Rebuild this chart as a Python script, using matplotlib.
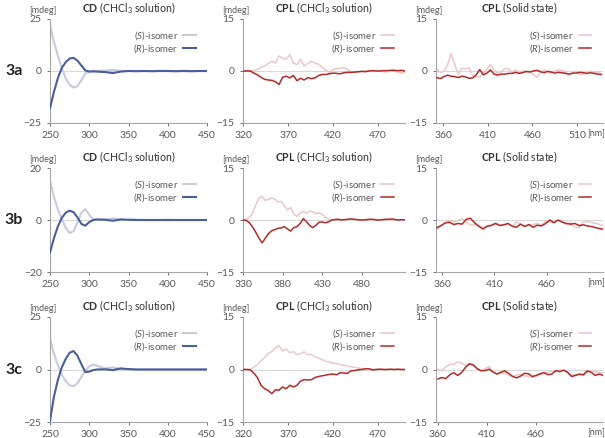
import matplotlib.pyplot as plt

plt.rcParams['font.family'] = ['Lato', 'DejaVu Sans']
plt.rcParams['mathtext.fontset'] = 'custom'
plt.rcParams['mathtext.rm'] = 'Lato'
plt.rcParams['mathtext.it'] = 'Lato:italic'
plt.rcParams['mathtext.bf'] = 'Lato:bold'

# ---- CD spectra (CHCl3 solution) ----
cd_wl = [250, 255, 260, 265, 270, 275, 280, 285, 290, 295, 300, 305, 310,
         320, 330, 340, 350, 360, 370, 380, 390, 400, 410, 420, 430, 440, 450]
cd_3a_s = [22, 14, 7.5, 1.5, -3.5, -6.5, -8, -7.3, -4.5, -1.2, 0, 0.2, 0.1,
           0.2, 0.6, 0.1, 0, 0.1, 0, 0, 0.1, 0, 0, 0.1, 0, 0, 0]
cd_3a_r = [-18, -10, -3.5, 1.5, 4.2, 6, 6.3, 5, 2.6, 0.3, -0.3, -0.2, -0.3,
           -0.5, -1, -0.3, 0, -0.1, 0, -0.1, 0, 0, -0.1, 0, -0.1, 0, 0]
cd_3b_s = [15, 9, 4, 0.5, -3, -5, -4.3, -1, 2.8, 4.2, 2, 0.3, 0.2,
           0.2, 0.6, 0.2, 0, 0.1, 0, 0, 0, 0.1, 0, 0, 0, 0, 0]
cd_3b_r = [-12.5, -7, -2.5, 0.8, 2.8, 3.6, 3, 1, -1.5, -2.2, -0.8, 0, 0.2,
           0.1, -0.3, 0.2, 0.1, 0, 0, 0, 0, 0, 0, 0, 0, 0, 0]
cd_3c_s = [15, 7.5, 2, -2.5, -5.5, -7.5, -8, -6.5, -3.5, -0.5, 1.5, 2.3, 1.8,
           0.5, 1, 0.3, 0, 0, 0, 0, 0, 0, 0, 0, 0, 0, 0]
cd_3c_r = [-24.5, -13, -5, 1, 5, 8, 8.8, 6.5, 2.5, -1.2, -1, -0.3, 0,
           0.1, -0.3, 0.5, 0.2, 0, 0, 0, 0, 0, 0, 0, 0, 0, 0]

# ---- CPL spectra (CHCl3 solution) ----
sol_wl_a = list(range(320, 501, 4))
sol_3a_s = [0, 0, 0, 0.1, 0.5, 1.0, 1.5, 2.1, 2.8, 2.3, 4.4, 3.6, 3.4, 4.7, 2.3, 1.8,
            3.4, 1.5, 2.1, 2.8, 2.3, 1.9, 1.1, 0.3, -0.5, 0.4, 0.7, 0.8, 0.9, 0.5,
            -0.2, -0.5, -0.3, -0.2, 0, 0.1, 0.1, 0, 0, -0.2, -0.3, 0, 0.1, -0.3, -0.6, -0.3]
sol_3a_r = [0, 0, 0, -0.6, -1.1, -1.8, -2.4, -2.6, -2.7, -3.1, -3.9, -1.8, -1.5, -2.0,
            -1.3, -2.8, -2.1, -2.6, -1.9, -2.2, -2.0, -1.3, -1.0, -1.0, -0.8, -0.6, -0.7,
            -0.8, -0.5, -0.4, -0.4, -0.3, -0.2, -0.1, -0.2, 0, 0.1, 0, 0, 0.1, 0.1, 0.2,
            0.2, 0.1, 0.2, 0]

sol_wl_b = list(range(330, 535, 4))
sol_3b_s = [0, 0.2, 0.8, 2.0, 4.3, 6.3, 6.8, 5.7, 5.9, 6.4, 6.0, 5.2, 5.4, 4.1, 2.9,
            3.6, 1.7, 1.0, 2.0, 2.5, 1.9, 2.6, 2.4, 1.8, 2.0, 1.6, 0.8, 0.2, 0, 0.3,
            0.1, 0, 0.1, 0.2, 0.3, 0.2, 0.1, 0, 0.1, 0.2, 0.1, 0, 0.1, 0.2, 0.1, 0.2,
            0.1, 0, 0.1, 0, 0.1, 0]
sol_3b_r = [0, -0.1, -0.8, -2.0, -3.5, -5.2, -6.6, -5.3, -4.0, -3.1, -2.8, -2.4, -2.3,
            -1.9, -2.6, -3.2, -2.2, -1.9, -1.0, 0.4, -0.5, -1.6, -2.2, -1.5, -0.6, -0.6,
            -0.8, -0.5, 0, 0.1, 0.2, 0, 0.1, 0.2, 0.3, 0.2, 0.1, 0, 0, 0.1, 0.2, 0.2, 0,
            0, 0.1, 0.2, 0.2, 0.3, 0.1, 0, 0.1, 0]

sol_wl_c = list(range(320, 501, 4))
sol_3c_s = [0, 0, 0.1, 0.6, 1.4, 2.5, 3.4, 4.6, 5.1, 6.2, 6.8, 5.3, 5.8, 4.8, 5.1, 4.2,
            4.6, 5.0, 4.2, 4.3, 3.6, 3.3, 2.8, 2.3, 2.1, 1.8, 1.7, 1.4, 1.2, 1.0, 0.8,
            0.6, 0.4, 0.3, 0.2, 0.1, 0, 0, 0, 0, 0, 0, 0, 0, 0, 0]
sol_3c_r = [0, 0, -0.1, -1.0, -2.3, -4.5, -5.5, -6.0, -6.9, -5.8, -5.9, -5.0, -5.5, -4.5,
            -5.0, -4.5, -3.3, -2.9, -3.0, -2.9, -2.3, -2.0, -1.8, -1.6, -1.4, -1.3, -1.5,
            -0.9, -1.0, -1.1, -0.4, -0.3, -0.1, 0, 0.2, 0.2, -0.1, 0, 0.1, 0, 0, 0.1, 0,
            0.1, 0, 0]

# ---- CPL spectra (solid state) ----
sld_wl_a = list(range(353, 538, 4))
sld_3a_s = [0.5, -0.5, 0, 1.8, 5.0, 1.8, -0.9, 0.8, 0.6, 0.9, -1.2, -1.8, -1.7, -0.6,
            0.6, 1.9, 0.3, -0.7, -0.3, 0.7, 0.7, -0.3, 0.3, -0.5, 0, -0.4, 0, -1.0, -1.8,
            -0.4, 0.3, -0.2, -0.7, 0, 0.3, 0.3, -0.3, -1.2, -0.6, 0, -1.0, -1.0, -0.5, 0,
            -0.3, -0.4, -0.2]
sld_3a_r = [-1.9, -2.2, -1.6, -1.2, -1.5, -1.6, -1.9, -1.5, -1.7, -2.1, -2.0, -1.1, 0.4,
            -1.1, -0.6, 0.3, -0.9, -1.2, -0.9, -0.9, -0.7, -0.7, -0.4, -0.7, -0.5, -0.1,
            -0.3, 0, 0.2, -0.2, -0.5, -0.1, -0.3, -0.6, -0.4, -0.5, -0.7, -0.9, -0.6, -0.6,
            -0.4, -0.5, -0.7, -0.5, -0.7, -0.9, -1.0]

sld_wl_b = list(range(355, 516, 4))
sld_3b_s = [-2.7, -1.6, -0.8, -0.3, -0.6, -0.1, 0.4, -0.6, -1.4, -1.3, -1.7, -2.2, -1.8,
            -1.3, -0.9, -1.3, -1.4, -1.0, -1.8, -0.6, -1.2, -1.7, -1.5, -1.3, -1.0, -1.5,
            -0.4, -0.7, -0.5, -0.1, -0.6, -1.3, -0.8, -2.0, -2.2, -0.6, -0.4, -0.7, -1.0,
            -1.3, -1.7]
sld_3b_r = [-2.2, -1.6, -0.8, -0.7, -1.3, -1.0, -1.2, 0.2, 0.5, -0.8, -1.8, -2.6, -1.8,
            -1.6, -1.0, -1.6, -1.4, -1.0, -1.8, -2.1, -1.2, -1.9, -1.3, -2.1, -1.5, -1.7,
            -1.0, 0, -0.8, 0, -0.6, -1.0, -1.2, -1.0, -1.6, -1.4, -1.7, -1.9, -2.2, -2.5,
            -2.7]

sld_wl_c = list(range(360, 529, 4))
sld_3c_s = [0, -0.2, 0.7, 1.5, 1.4, 2.2, 1.8, 1.2, 1.8, 1.2, 0.3, -0.2, 0.2, 0.9, -0.8,
            -1.2, -1.1, -1.0, -1.7, -2.0, -1.6, -1.4, -1.8, -2.0, -2.3, -1.9, -1.5, -1.2,
            -0.8, -0.4, -0.5, -0.3, -0.2, -1.1, -1.7, -1.4, -1.5, -1.7, -0.8, -0.3, -0.6,
            -0.8, -1.1]
sld_3c_r = [-2.7, -2.3, -2.6, -1.5, -0.9, -1.7, -0.9, 0.6, 1.6, 1.3, 0.2, -0.4, -0.3, 0.1,
            -0.7, -1.3, -0.8, -0.4, -1.1, -2.0, -2.4, -1.9, -1.1, -1.2, -2.0, -1.7, -1.2,
            -0.9, -1.5, -1.3, -0.3, -0.6, -0.2, -0.8, -2.0, -1.7, -1.3, -1.5, -0.4, -0.8,
            -1.7, -1.3, -1.7]

row_names = ['3a', '3b', '3c']
cd_colors = ('#c9cbdd', '#4b5e9c')
cpl_colors = ('#e9c9c9', '#b32a2a')
grey = '#595959'

W, H = 605, 438
fig = plt.figure(figsize=(W / 100, H / 100), dpi=100)

rows_px = [(19, 123), (168, 272), (317, 422)]
cols_px = [(50, 207), (243, 405), (436, 603)]

panels = [
    # row, col, x, s, r, xlim, xticks, ylim
    (0, 0, cd_wl, cd_3a_s, cd_3a_r, (250, 450), [250, 300, 350, 400, 450], 25),
    (0, 1, sol_wl_a, sol_3a_s, sol_3a_r, (320, 500), [320, 370, 420, 470], 15),
    (0, 2, sld_wl_a, sld_3a_s, sld_3a_r, (352, 539), [360, 410, 460, 510], 15),
    (1, 0, cd_wl, cd_3b_s, cd_3b_r, (250, 450), [250, 300, 350, 400, 450], 20),
    (1, 1, sol_wl_b, sol_3b_s, sol_3b_r, (330, 534), [330, 380, 430, 480], 15),
    (1, 2, sld_wl_b, sld_3b_s, sld_3b_r, (354, 514), [360, 410, 460], 15),
    (2, 0, cd_wl, cd_3c_s, cd_3c_r, (250, 450), [250, 300, 350, 400, 450], 25),
    (2, 1, sol_wl_c, sol_3c_s, sol_3c_r, (320, 500), [320, 370, 420, 470], 15),
    (2, 2, sld_wl_c, sld_3c_s, sld_3c_r, (358, 528), [360, 410, 460], 15),
]

titles = [r'$\bf{CD}$ (CHCl$_3$ solution)',
          r'$\bf{CPL}$ (CHCl$_3$ solution)',
          r'$\bf{CPL}$ (Solid state)']

for row, col, x, s, r, xlim, xticks, ylim in panels:
    top, bot = rows_px[row]
    left, right = cols_px[col]
    ax = fig.add_axes([left / W, 1 - bot / H, (right - left) / W, (bot - top) / H])
    cols = cd_colors if col == 0 else cpl_colors
    lw = 1.5 if col == 0 else 1.1
    ax.axhline(0, color='#d9d9d9', lw=0.8, zorder=1)
    ax.plot(x, s, color=cols[0], lw=lw, label=r'($\it{S}$)-isomer', zorder=2)
    ax.plot(x, r, color=cols[1], lw=lw, label=r'($\it{R}$)-isomer', zorder=3)
    ax.set_xlim(xlim)
    ax.set_ylim(-ylim, ylim)
    ax.set_xticks(xticks)
    ax.set_yticks([-ylim, 0, ylim])
    for sp in ['top', 'right']:
        ax.spines[sp].set_visible(False)
    for sp in ['left', 'bottom']:
        ax.spines[sp].set_color('#a6a6a6')
        ax.spines[sp].set_linewidth(0.8)
    ax.tick_params(labelsize=7.5, colors=grey, length=2, width=0.6, pad=4)
    leg = ax.legend(loc='upper right', bbox_to_anchor=(0.96, 0.95), frameon=False,
                    markerfirst=False, fontsize=7, handlelength=1.3,
                    handletextpad=0.5, labelspacing=0.0, borderpad=0)
    for t in leg.get_texts():
        t.set_color(grey)
    h = bot - top
    # headers sit just above the plot area
    ax.text(0.5, 1 + 3 / h, titles[col], transform=ax.transAxes, ha='center',
            va='bottom', fontsize=7.6, color='#333333')
    ax.text(-7 / (right - left), 1 + 4 / h, '[mdeg]', transform=ax.transAxes,
            ha='center', va='bottom', fontsize=6.5, color=grey)
    if col == 2:
        ax.text(1.01, -11 / h, '[nm]', transform=ax.transAxes, ha='right',
                va='center', fontsize=6.5, color=grey)
    if col == 0:
        fig.text(14 / W, 1 - (top + h / 2) / H, row_names[row], ha='center',
                 va='center', fontsize=11.5, fontweight='bold', color='#222222')

fig.savefig('out.png', dpi=100)
